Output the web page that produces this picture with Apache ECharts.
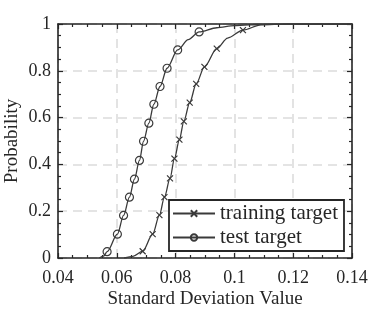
<!DOCTYPE html>
<html>
<head>
<meta charset="utf-8">
<script src="https://cdn.jsdelivr.net/npm/echarts@6/dist/echarts.min.js"></script>
<style>html,body{margin:0;padding:0;background:#fff}#c{width:390px;height:312px}</style>
</head>
<body>
<div id="c"></div>
<script>
// ---- data ----
const xTickLabels = ['0.04', '0.06', '0.08', '0.1', '0.12', '0.14'];
const yTickLabels = ['0', '0.2', '0.4', '0.6', '0.8', '1'];
const seriesNames = ['training target', 'test target'];

// marked samples (with markers)
const trainMarkX = [0.0688, 0.0722, 0.0745, 0.0762, 0.0781, 0.0796, 0.0813, 0.0828, 0.0848, 0.0870, 0.0898, 0.0940, 0.1029];
const trainMarkY = [0.029, 0.102, 0.183, 0.260, 0.340, 0.425, 0.506, 0.584, 0.664, 0.744, 0.817, 0.895, 0.974];
// curve-only samples (no marker)
const trainCurveX = [0.0625, 0.0655, 0.0977, 0.1090, 0.1180, 0.1400];
const trainCurveY = [0, 0.007, 0.940, 0.996, 1, 1];

const testMarkX = [0.0567, 0.0602, 0.0623, 0.0643, 0.0660, 0.0677, 0.0691, 0.0709, 0.0726, 0.0747, 0.0771, 0.0807, 0.0880];
const testMarkY = [0.027, 0.102, 0.182, 0.260, 0.337, 0.417, 0.499, 0.576, 0.657, 0.733, 0.811, 0.889, 0.966];
const testCurveX = [0.0540, 0.0555, 0.0843, 0.0940, 0.1000, 0.1100, 0.1200, 0.1400];
const testCurveY = [0, 0.008, 0.933, 0.984, 0.993, 0.999, 1, 1];

function build(mx, my, cx, cy) {
  const pts = [];
  mx.forEach((x, i) => pts.push({ value: [x, my[i]] }));
  cx.forEach((x, i) => pts.push({ value: [x, cy[i]], symbol: 'none' }));
  pts.sort((a, b) => a.value[0] - b.value[0]);
  return pts;
}

const INK = '#262626';
const LINE = '#3a3a3a';
const FONT = 'Liberation Serif';
const fmtX = v => { const i = Math.round((v - 0.04) / 0.02); return xTickLabels[i] !== undefined ? xTickLabels[i] : ''; };
const fmtY = v => { const i = Math.round(v / 0.2); return yTickLabels[i] !== undefined ? yTickLabels[i] : ''; };

const gridCfg = { left: 58, right: 38, top: 24, bottom: 54, containLabel: false, outerBoundsMode: 'none' };
const tickCommon = {
  axisLine: { show: true, onZero: false, lineStyle: { color: INK, width: 1.6 } },
  axisTick: { show: true, inside: true, length: 5, lineStyle: { color: INK, width: 1.2 } },
  minorTick: { show: true, splitNumber: 4, length: 3, lineStyle: { color: INK, width: 1.2 } },
};

const chart = echarts.init(document.getElementById('c'), null, { renderer: 'canvas' });
chart.setOption({
  animation: false,
  backgroundColor: '#fff',
  grid: gridCfg,
  xAxis: [
    Object.assign({
      type: 'value', position: 'bottom', min: 0.04, max: 0.14, interval: 0.02,
      name: 'Standard Deviation Value', nameLocation: 'middle', nameGap: 32, nameMoveOverlap: false,
      nameTextStyle: { fontFamily: FONT, fontSize: 19, color: INK },
      axisLabel: { formatter: fmtX, fontFamily: FONT, fontSize: 18, color: INK, margin: 11 },
      splitLine: { show: true, lineStyle: { color: '#dcdcdc', width: 1.6, type: [9, 6] } },
    }, tickCommon),
    Object.assign({
      type: 'value', position: 'top', min: 0.04, max: 0.14, interval: 0.02,
      axisLabel: { show: false }, splitLine: { show: false },
    }, tickCommon)
  ],
  yAxis: [
    Object.assign({
      type: 'value', position: 'left', min: 0, max: 1, interval: 0.2,
      name: 'Probability', nameLocation: 'middle', nameGap: 36, nameMoveOverlap: false,
      nameTextStyle: { fontFamily: FONT, fontSize: 19, color: INK },
      axisLabel: { formatter: fmtY, fontFamily: FONT, fontSize: 18, color: INK, margin: 7 },
      splitLine: { show: true, lineStyle: { color: '#dcdcdc', width: 1.6, type: [9, 6] } },
    }, tickCommon),
    Object.assign({
      type: 'value', position: 'right', min: 0, max: 1, interval: 0.2,
      axisLabel: { show: false }, splitLine: { show: false },
    }, tickCommon)
  ],
  legend: {
    left: 169, top: 200, orient: 'vertical',
    backgroundColor: '#fff', borderColor: INK, borderWidth: 1.8, borderRadius: 0,
    padding: [3, 6, 3, 3], itemGap: 3, itemWidth: 42, itemHeight: 8,
    textStyle: { fontFamily: FONT, fontSize: 21, color: INK },
    data: seriesNames
  },
  series: [
    {
      name: seriesNames[0], type: 'line', color: LINE,
      smooth: 0.3, smoothMonotone: 'x',
      symbol: 'path://M0,0L10,10M10,0L0,10', symbolSize: 6, showAllSymbol: true,
      lineStyle: { color: LINE, width: 1.3 },
      itemStyle: { color: 'transparent', borderColor: LINE, borderWidth: 1.2 },
      data: build(trainMarkX, trainMarkY, trainCurveX, trainCurveY), z: 3
    },
    {
      name: seriesNames[1], type: 'line', color: LINE,
      smooth: 0.3, smoothMonotone: 'x',
      symbol: 'circle', symbolSize: 8, showAllSymbol: true,
      lineStyle: { color: LINE, width: 1.3 },
      itemStyle: { color: 'transparent', borderColor: LINE, borderWidth: 1.2 },
      data: build(testMarkX, testMarkY, testCurveX, testCurveY), z: 3
    }
  ]
});
</script>
</body>
</html>
